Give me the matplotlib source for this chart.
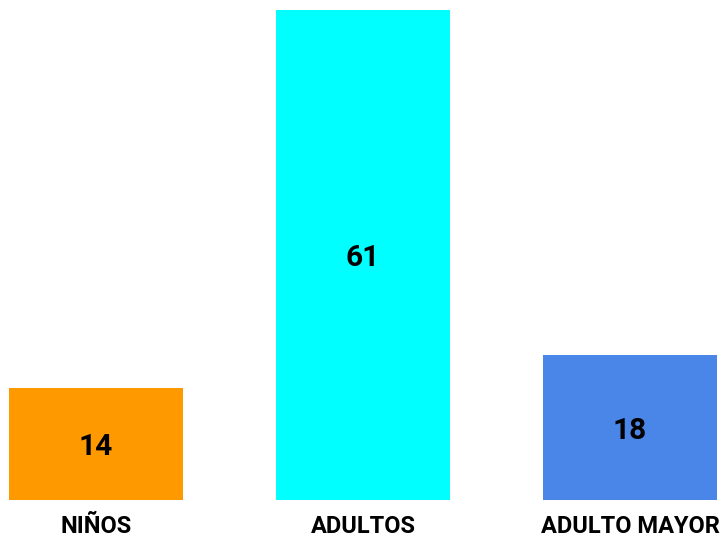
import matplotlib
matplotlib.use("Agg")
import matplotlib.pyplot as plt

categories = ["NIÑOS", "ADULTOS", "ADULTO MAYOR"]
values = [14, 61, 18]
colors = ["#FF9900", "#00FFFF", "#4A86E8"]

plt.rcParams['font.family'] = ['Roboto', 'DejaVu Sans']

fig = plt.figure(figsize=(7.22, 5.39), dpi=100)
ax = fig.add_axes([9/722, 39/539, 708/722, 490/539])
x = list(range(len(categories)))
width = 0.652
bars = ax.bar(x, values, width=width, color=colors)
ax.set_xlim(-width/2, len(categories) - 1 + width/2)
ax.set_ylim(0, max(values))
for xi, v in zip(x, values):
    ax.text(xi, v/2, str(v), ha='center', va='center_baseline', fontsize=21.5,
            fontweight='bold', color='black')
ax.set_xticks(x)
ax.set_xticklabels(categories, fontsize=17, fontweight='bold', color='black')
ax.tick_params(axis='x', length=0, pad=11)
ax.set_yticks([])
for s in ax.spines.values():
    s.set_visible(False)
fig.savefig("out.png", dpi=100, facecolor='white')
